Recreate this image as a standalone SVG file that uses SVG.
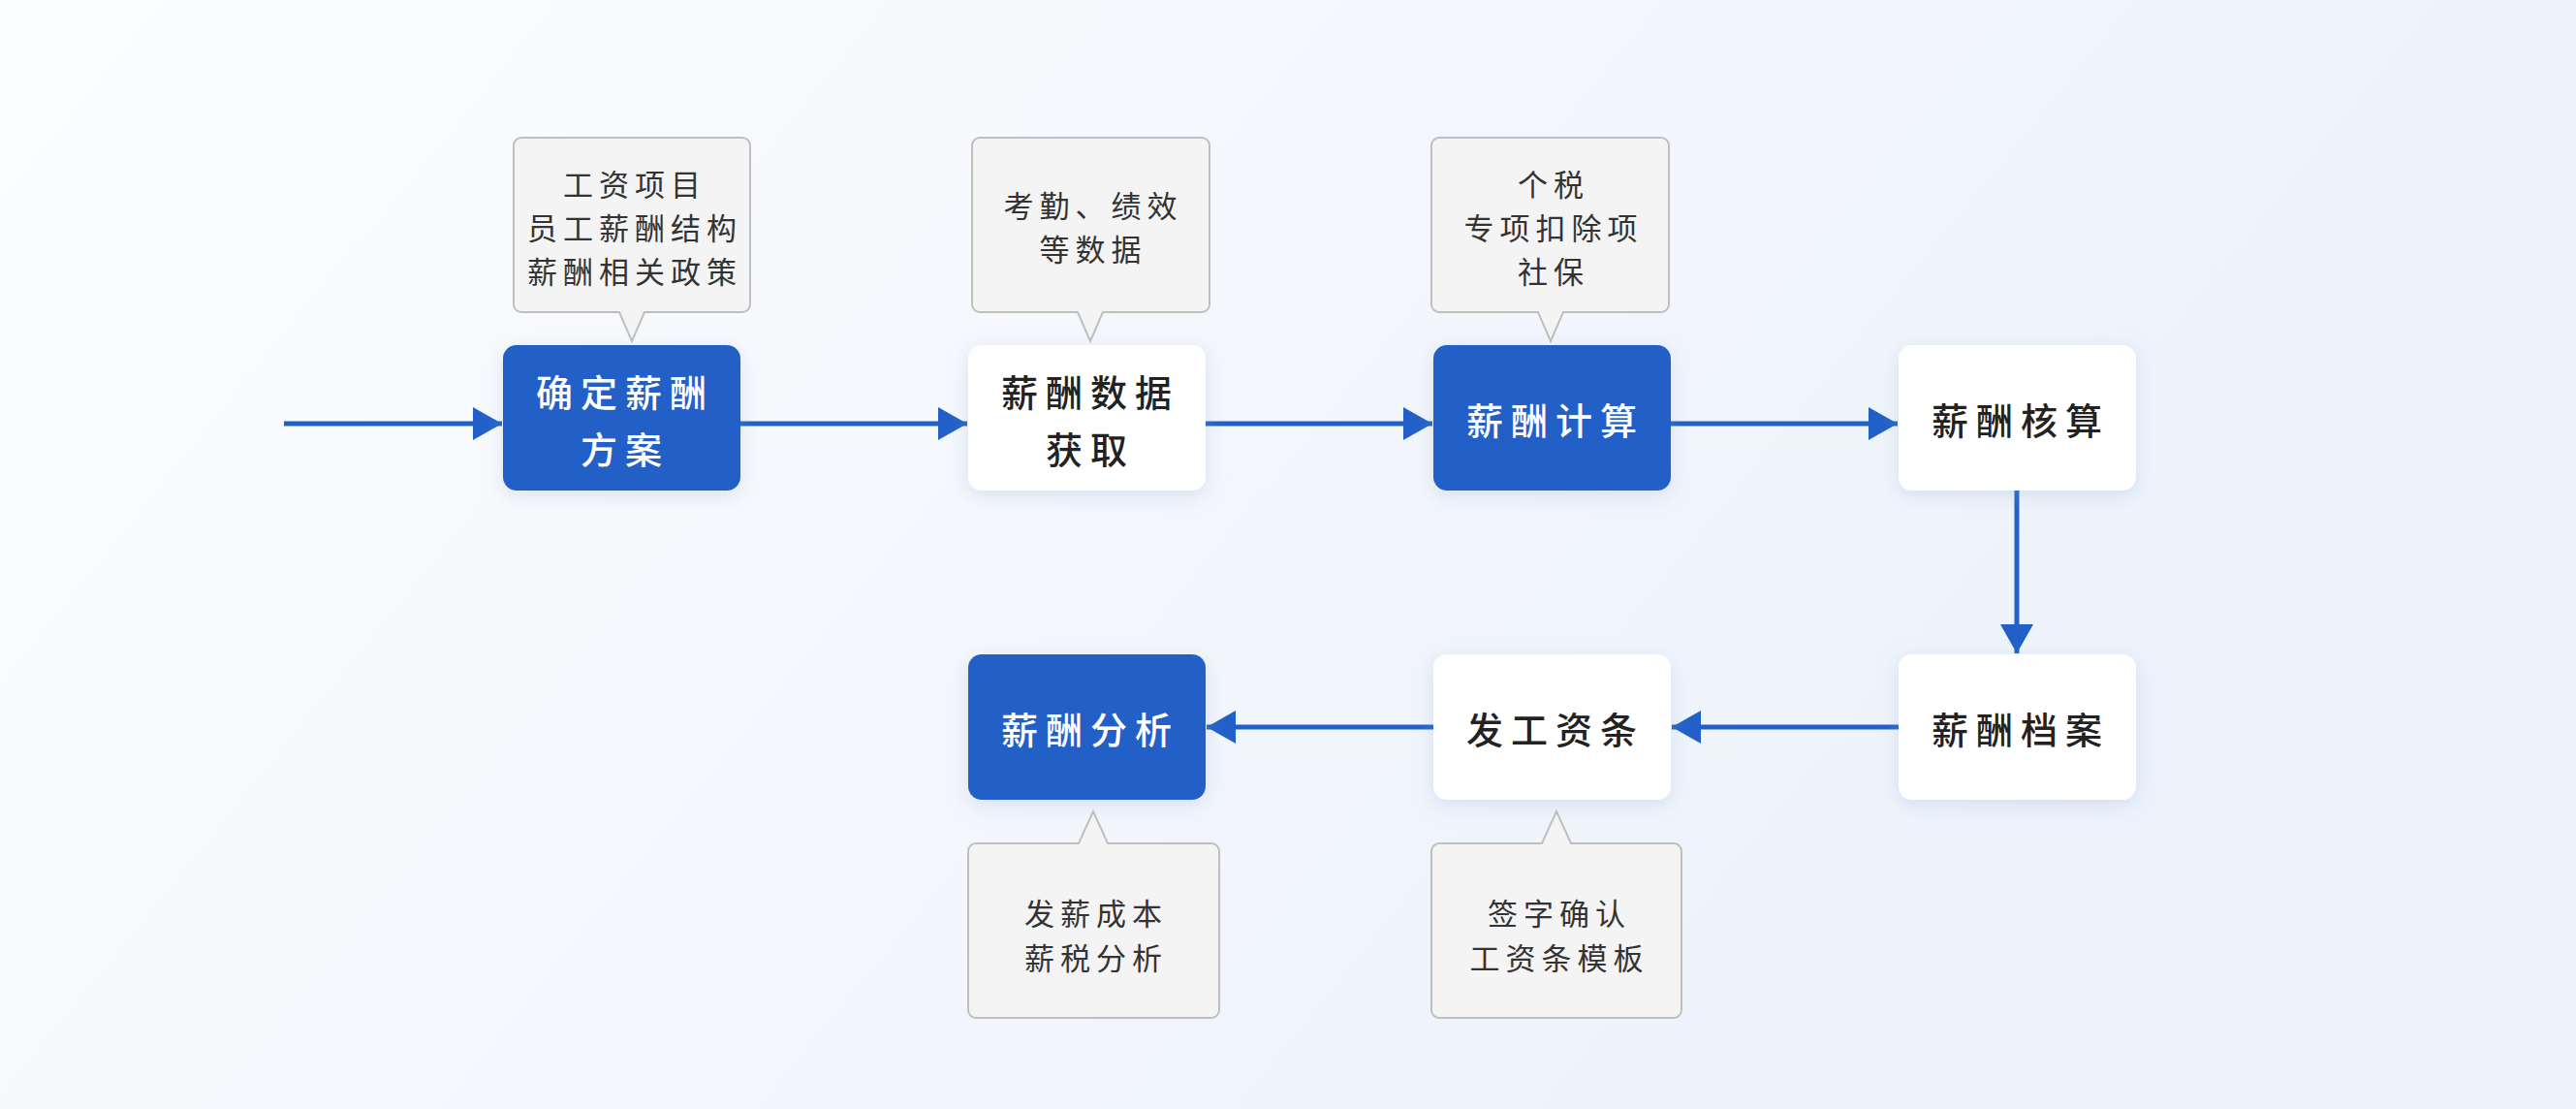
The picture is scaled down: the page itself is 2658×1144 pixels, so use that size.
<svg xmlns="http://www.w3.org/2000/svg" width="2658" height="1144" viewBox="0 0 2658 1144">
<defs>
<linearGradient id="bg" x1="0" y1="0" x2="1" y2="0.35">
<stop offset="0" stop-color="#FCFDFE"/>
<stop offset="0.5" stop-color="#F4F7FC"/>
<stop offset="1" stop-color="#ECF2FB"/>
</linearGradient>
<filter id="sh" x="-20%" y="-20%" width="140%" height="150%">
<feDropShadow dx="0" dy="5" stdDeviation="10" flood-color="#8FA6CF" flood-opacity="0.28"/>
</filter>
<marker id="ah" markerUnits="userSpaceOnUse" markerWidth="30" markerHeight="34" refX="30" refY="17" orient="auto">
<path d="M0,0 L30,17 L0,34 Z" fill="#2160C8"/>
</marker>
<style>
.blue{fill:#2160C8;filter:url(#sh)}
.white{fill:#FFFFFF;filter:url(#sh)}
.nt{font-family:"Noto Sans CJK SC","Noto Sans",sans-serif;font-size:38px;letter-spacing:8px;text-anchor:middle;dominant-baseline:central;font-weight:500}
.wt{fill:#FFFFFF}
.dt{fill:#222222}
.co{fill:#F4F4F4;stroke:#BFBFBF;stroke-width:2}
.ct{font-family:"Noto Sans CJK SC","Noto Sans",sans-serif;font-size:31px;letter-spacing:6px;text-anchor:middle;dominant-baseline:central;fill:#333333}
.cn{fill:none;stroke:#2160C8;stroke-width:5;marker-end:url(#ah)}
</style>
</defs>
<rect width="2658" height="1144" fill="url(#bg)"/>

<g id="connectors">
<path class="cn" d="M293,437 H518"/>
<path class="cn" d="M764,437 H998"/>
<path class="cn" d="M1244,437 H1478"/>
<path class="cn" d="M1724,437 H1958"/>
<path class="cn" d="M2081,506 V674"/>
<path class="cn" d="M1959,750 H1725"/>
<path class="cn" d="M1479,750 H1245"/>
</g>

<g id="callout-1">
<path class="co" d="M538,142 H766 A8,8 0 0 1 774,150 V314 A8,8 0 0 1 766,322 H665 L652,352 L639,322 H538 A8,8 0 0 1 530,314 V150 A8,8 0 0 1 538,142 Z"/>
<text class="ct" x="655" y="188">工资项目</text>
<text class="ct" x="655" y="233">员工薪酬结构</text>
<text class="ct" x="655" y="278">薪酬相关政策</text>
</g>
<g id="callout-2">
<path class="co" d="M1011,142 H1240 A8,8 0 0 1 1248,150 V314 A8,8 0 0 1 1240,322 H1138 L1125,352 L1112,322 H1011 A8,8 0 0 1 1003,314 V150 A8,8 0 0 1 1011,142 Z"/>
<text class="ct" x="1128" y="210">考勤、绩效</text>
<text class="ct" x="1128" y="255">等数据</text>
</g>
<g id="callout-3">
<path class="co" d="M1485,142 H1714 A8,8 0 0 1 1722,150 V314 A8,8 0 0 1 1714,322 H1613 L1600,352 L1587,322 H1485 A8,8 0 0 1 1477,314 V150 A8,8 0 0 1 1485,142 Z"/>
<text class="ct" x="1603" y="188">个税</text>
<text class="ct" x="1603" y="233">专项扣除项</text>
<text class="ct" x="1603" y="278">社保</text>
</g>
<g id="callout-7">
<path class="co" d="M1007,870 H1113 L1128,837 L1143,870 H1250 A8,8 0 0 1 1258,878 V1042 A8,8 0 0 1 1250,1050 H1007 A8,8 0 0 1 999,1042 V878 A8,8 0 0 1 1007,870 Z"/>
<text class="ct" x="1131" y="940">发薪成本</text>
<text class="ct" x="1131" y="986">薪税分析</text>
</g>
<g id="callout-6">
<path class="co" d="M1485,870 H1591 L1606,837 L1621,870 H1727 A8,8 0 0 1 1735,878 V1042 A8,8 0 0 1 1727,1050 H1485 A8,8 0 0 1 1477,1042 V878 A8,8 0 0 1 1485,870 Z"/>
<text class="ct" x="1609" y="940">签字确认</text>
<text class="ct" x="1609" y="986">工资条模板</text>
</g>

<g id="node-1">
<rect class="blue" x="519" y="356" width="245" height="150" rx="14"/>
<text class="nt wt" x="645" y="402">确定薪酬</text>
<text class="nt wt" x="645" y="461">方案</text>
</g>
<g id="node-2">
<rect class="white" x="999" y="356" width="245" height="150" rx="14"/>
<text class="nt dt" x="1125" y="402">薪酬数据</text>
<text class="nt dt" x="1125" y="461">获取</text>
</g>
<g id="node-3">
<rect class="blue" x="1479" y="356" width="245" height="150" rx="14"/>
<text class="nt wt" x="1605" y="431">薪酬计算</text>
</g>
<g id="node-4">
<rect class="white" x="1959" y="356" width="245" height="150" rx="14"/>
<text class="nt dt" x="2085" y="431">薪酬核算</text>
</g>
<g id="node-5">
<rect class="white" x="1959" y="675" width="245" height="150" rx="14"/>
<text class="nt dt" x="2085" y="750">薪酬档案</text>
</g>
<g id="node-6">
<rect class="white" x="1479" y="675" width="245" height="150" rx="14"/>
<text class="nt dt" x="1605" y="750">发工资条</text>
</g>
<g id="node-7">
<rect class="blue" x="999" y="675" width="245" height="150" rx="14"/>
<text class="nt wt" x="1125" y="750">薪酬分析</text>
</g>
</svg>
